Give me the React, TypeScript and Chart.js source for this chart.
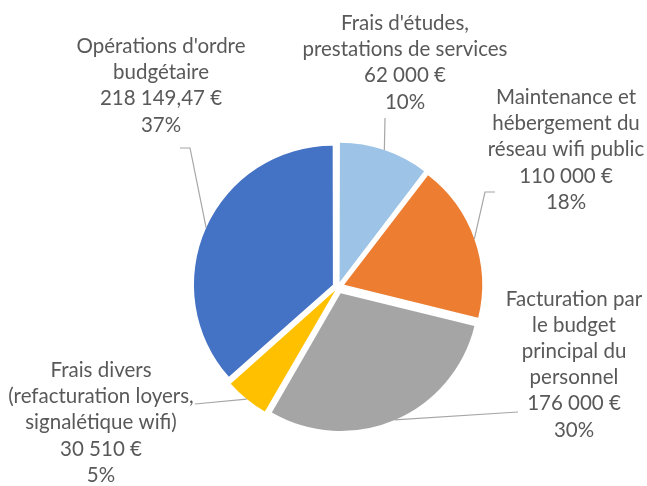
import React, { useEffect, useRef } from "react";
import { Chart, registerables } from "chart.js";

Chart.register(...registerables);

// ---- data ----
const CATEGORY_LINES: string[][] = [
  ["Frais d'études,", "prestations de services"],
  ["Maintenance et", "hébergement du", "réseau wifi public"],
  ["Facturation par", "le budget", "principal du", "personnel"],
  ["Frais divers", "(refacturation loyers,", "signalétique wifi)"],
  ["Opérations d'ordre", "budgétaire"],
];
const VALUES = [62000, 110000, 176000, 30510, 218149.47];
const PERCENT_LABELS = ["10%", "18%", "30%", "5%", "37%"];

// ---- styles / layout ----
const COLORS = ["#9DC3E6", "#ED7D31", "#A5A5A5", "#FFC000", "#4472C4"];
const TEXT_COLOR = "#595959";
const LEADER_COLOR = "#A6A6A6";
const EXPLODE_PX = 7; // outward reach of each exploded slice
const LINE_HEIGHT = 26.2;
const LABEL_POS: [number, number][] = [
  [405, 30],
  [566, 104],
  [574, 305.5],
  [101, 377],
  [161, 53],
];
const LEADER_POINTS: [number, number][][] = [
  [[385, 118]],
  [[495, 192], [485, 192]],
  [[518, 412]],
  [[195, 404]],
  [[180, 148], [190, 148]],
];

function formatEuro(v: number): string {
  const s = Number.isInteger(v) ? v.toFixed(0) : v.toFixed(2);
  const [intPart, dec] = s.split(".");
  const grouped = intPart.replace(/\B(?=(\d{3})+(?!\d))/g, " ");
  return (dec ? grouped + "," + dec : grouped) + " €";
}

// chart.js offset: translation offset/4 plus radius growth offset/4*fix;
// choose per-slice offset so the outer reach is the same for every slice
const TOTAL = VALUES.reduce((a, b) => a + b, 0);
const OFFSETS = VALUES.map((v) => {
  const circ = (v / TOTAL) * Math.PI * 2;
  const fix = 1 - Math.sin(Math.min(Math.PI, circ));
  return (4 * EXPLODE_PX) / (1 + fix);
});

const labelPlugin = {
  id: "outsideLabels",
  afterDatasetsDraw(chart: any) {
    const ctx: CanvasRenderingContext2D = chart.ctx;
    const meta = chart.getDatasetMeta(0);
    ctx.save();
    ctx.font = "100px Lato, 'Open Sans', sans-serif";
    const w = ctx.measureText("prestations de services").width;
    const size = (100 * 205) / w;
    const font = `${size.toFixed(2)}px Lato, 'Open Sans', sans-serif`;

    meta.data.forEach((arc: any, i: number) => {
      const p = arc.getProps(
        ["x", "y", "startAngle", "endAngle", "outerRadius", "circumference"],
        true
      );
      const off = (arc.options.offset || 0) / 4;
      const fix = 1 - Math.sin(Math.min(Math.PI, p.circumference || 0));
      const h = (p.startAngle + p.endAngle) / 2;
      const r = p.outerRadius + off * (1 + fix);
      const px = p.x + Math.cos(h) * r;
      const py = p.y + Math.sin(h) * r;

      const pts = LEADER_POINTS[i];
      ctx.beginPath();
      ctx.strokeStyle = LEADER_COLOR;
      ctx.lineWidth = 1.2;
      ctx.moveTo(pts[0][0], pts[0][1]);
      for (let k = 1; k < pts.length; k++) ctx.lineTo(pts[k][0], pts[k][1]);
      ctx.lineTo(px, py);
      ctx.stroke();

      const lines = [
        ...CATEGORY_LINES[i],
        formatEuro(VALUES[i]),
        PERCENT_LABELS[i],
      ];
      ctx.font = font;
      ctx.fillStyle = TEXT_COLOR;
      ctx.textAlign = "center";
      ctx.textBaseline = "alphabetic";
      const [lx, ly] = LABEL_POS[i];
      lines.forEach((t, k) => ctx.fillText(t, lx, ly + k * LINE_HEIGHT));
    });
    ctx.restore();
  },
};

export default function App() {
  const ref = useRef<HTMLCanvasElement | null>(null);
  useEffect(() => {
    if (!ref.current) return;
    const chart = new Chart(ref.current, {
      type: "pie",
      data: {
        labels: CATEGORY_LINES.map((l) => l.join(" ")),
        datasets: [
          {
            data: VALUES,
            backgroundColor: COLORS,
            borderWidth: 0,
            offset: OFFSETS,
            hoverOffset: 0,
          },
        ],
      },
      options: {
        responsive: false,
        animation: false,
        layout: { padding: { left: 187, right: 158, top: 136, bottom: 48 } },
        plugins: {
          legend: { display: false },
          tooltip: { enabled: false },
        },
        events: [],
      },
      plugins: [labelPlugin],
    });
    return () => chart.destroy();
  }, []);
  return (
    <div style={{ position: "absolute", left: 0, top: 0, width: 647, height: 486, background: "#fff" }}>
      <canvas ref={ref} width={647} height={486} />
    </div>
  );
}
